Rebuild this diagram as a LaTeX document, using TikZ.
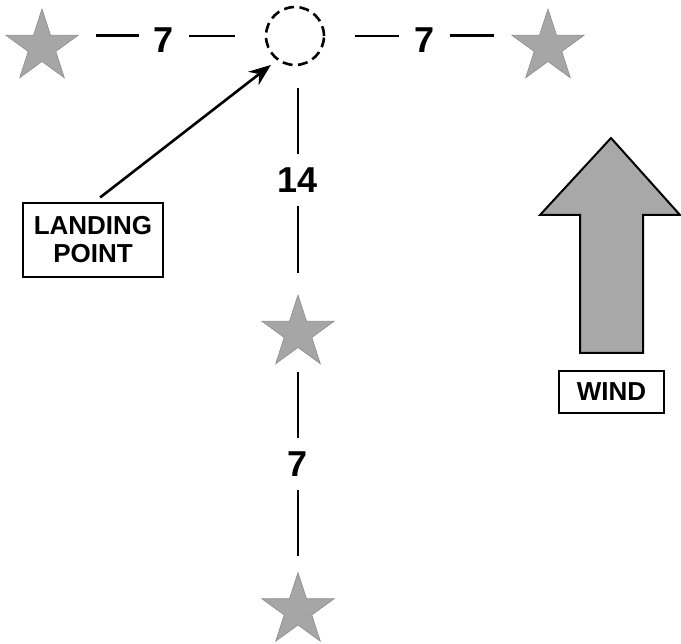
\documentclass[tikz,border=0pt]{standalone}
\usepackage{fontspec}
\setmainfont{Liberation Sans}
\usetikzlibrary{shapes.geometric,arrows.meta}

\tikzset{
  markstar/.style={star, star points=5, star point ratio=2.618, minimum size=76pt,
    inner sep=0pt, outer sep=0pt, fill=black!35, draw=black!45, line width=0.6pt},
  distnum/.style={font=\bfseries\fontsize{36}{40}\selectfont, inner xsep=15pt,
    inner ysep=13.5pt, outer sep=0pt},
  distline/.style={line width=2.8pt},
  labelbox/.style={draw, line width=2pt, font=\bfseries\fontsize{26}{28}\selectfont,
    align=center, inner sep=0pt, outer sep=0pt},
}

\begin{document}
\begin{tikzpicture}[x=1pt,y=-1pt]
  \useasboundingbox (0,0) rectangle (681,644);

  \node[markstar] (lstar) at (42,47) {};
  \node[markstar] (rstar) at (548,47) {};
  \node[markstar] (mstar) at (298,333) {};
  \node[markstar] (bstar) at (298,610.5) {};
  \node[draw, circle, minimum size=58pt, inner sep=0pt, outer sep=0pt,
    line width=2.6pt, dash pattern=on 10pt off 5.5pt] (lz) at (295,36) {};

  \node[distnum] (n1) at (164,40.5) {7};
  \node[distnum] (n2) at (424.5,40.5) {7};
  \node[distnum] (n3) at (298,180) {14};
  \node[distnum] (n4) at (298,464) {7};

  \coordinate (la) at (lstar.outer point 5);
  \coordinate (ra) at (rstar.outer point 2);

  \draw[distline, shorten <=18pt] (la) -- (la -| n1.west);
  \draw[distline, shorten >=31pt] (n1.east |- lz.west) -- (lz.west);
  \draw[distline, shorten <=31pt] (lz.east) -- (lz.east -| n2.west);
  \draw[distline, shorten >=18pt] (ra -| n2.east) -- (ra);
  \draw[distline, shorten <=23pt] (lz.south -| n3) -- (n3.north);
  \draw[distline, shorten >=22pt] (n3.south) -- (mstar.north);
  \draw[distline, shorten <=24pt] (mstar.south) -- (n4.north);
  \draw[distline, shorten >=16pt] (n4.south) -- (bstar.north);

  \node[labelbox, minimum width=140pt, minimum height=74pt] (lp) at (93,240) {LANDING\\POINT};
  \draw[line width=2.6pt, -{Stealth[length=22pt,width=17pt]},
    shorten <=9pt, shorten >=9pt] (lp.north) -- (lz.234);

  \draw[line width=2pt, fill=black!34, line join=miter]
    (611,138) -- (680,215) -- (643,215) -- (643,353) -- (580,353)
    -- (580,215) -- (540,215) -- cycle;
  \node[labelbox, minimum width=105pt, minimum height=42pt] (wind) at (611.5,392) {WIND};
\end{tikzpicture}
\end{document}
